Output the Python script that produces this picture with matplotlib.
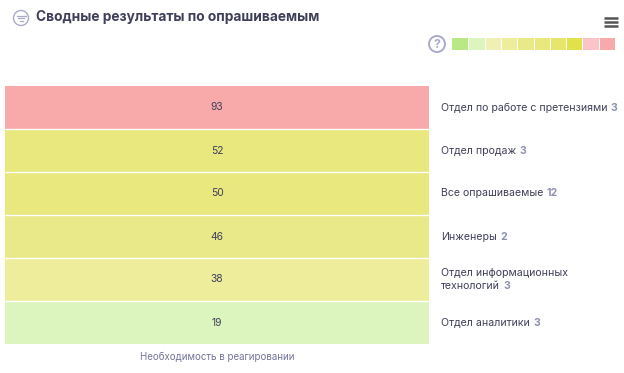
import numpy as np
import matplotlib
matplotlib.use('Agg')
import matplotlib.pyplot as plt
from matplotlib.colors import ListedColormap, BoundaryNorm
from matplotlib.patches import Circle

plt.rcParams['font.family'] = ['Inter', 'DejaVu Sans']

groups = ['Отдел по работе с претензиями', 'Отдел продаж', 'Все опрашиваемые', 'Инженеры',
          'Отдел информационных\nтехнологий', 'Отдел аналитики']
values = [93, 52, 50, 46, 38, 19]
counts = [3, 3, 12, 2, 3, 3]
bins = [0, 10, 20, 30, 40, 50, 60, 70, 80, 90, 100]
bin_colors = ['#b9e884', '#dcf4be', '#f0f0b4', '#eeed9b', '#e9e98a', '#e8e87e',
              '#e6e66c', '#e1e14c', '#fbc5c8', '#f8a9a9']

W, H = 624, 373
DARK = '#3f3f5a'
GREY = '#8f90b5'

cmap = ListedColormap(bin_colors)
norm = BoundaryNorm(bins, cmap.N)

fig = plt.figure(figsize=(W/100, H/100), dpi=100)

# heatmap, one column
ax = fig.add_axes([5/W, 1-344/H, 424/W, 258/H])
grid = np.array(values).reshape(-1, 1)
ax.pcolormesh(grid, cmap=cmap, norm=norm)
ax.hlines(np.arange(1, len(values)), 0, 1, color='white', lw=1.0)
ax.invert_yaxis()
ax.axis('off')
for i, v in enumerate(values):
    ax.text(0.5, i+0.5, str(v), ha='center', va='center', fontsize=7.4, color=DARK)

# colour legend
lax = fig.add_axes([452/W, 1-50/H, 163/W, 12/H])
mids = np.array(bins[:-1]).reshape(1, -1) + 5
lax.pcolormesh(mids, cmap=cmap, norm=norm)
lax.vlines(np.arange(1, len(bins)-1), 0, 1, color='white', lw=0.7)
lax.axis('off')

# everything else in pixel coordinates
ov = fig.add_axes([0, 0, 1, 1], facecolor='none')
ov.set_xlim(0, W)
ov.set_ylim(H, 0)
ov.axis('off')

ov.text(36, 17.5, 'Сводные результаты по опрашиваемым', fontsize=9.9, fontweight='bold',
        color=DARK, ha='left', va='center')
ov.text(217, 357, 'Необходимость в реагировании', fontsize=7.0, color='#73749a',
        ha='center', va='center')

row_h = 258/len(values)
for i, (name, n) in enumerate(zip(groups, counts)):
    yc = 86 + row_h*(i+0.5)
    lines = name.split('\n')
    if len(lines) > 1:
        ov.text(441, yc-6.5, lines[0], fontsize=7.6, color=DARK, va='center')
        t = ov.text(441, yc+6.5, lines[1], fontsize=7.6, color=DARK, va='center')
    else:
        t = ov.text(441, yc, name, fontsize=7.6, color=DARK, va='center')
    ov.annotate(str(n), xy=(1, 0), xycoords=t, xytext=(2.5, 0), textcoords='offset points',
                fontsize=7.6, fontweight='bold', color=GREY, va='bottom', ha='left')

# funnel icon
ov.add_patch(Circle((21, 18), 7.5, fill=False, ec='#a9abc9', lw=1.0))
for half, y in zip([4.5, 3, 1.5], [15.5, 18, 20.5]):
    ov.plot([21-half, 21+half], [y, y], color='#a9abc9', lw=0.9)

# help icon
ov.add_patch(Circle((437, 44), 8, fill=False, ec='#a9abc9', lw=1.4))
ov.text(437, 44.5, '?', fontsize=9, fontweight='bold', color='#a9abc9', ha='center', va='center')

# menu icon
for y in [18, 22, 26]:
    ov.plot([604, 618], [y, y], color='#555555', lw=1.8, solid_capstyle='butt')

fig.savefig('out.png', dpi=100, facecolor='white')
